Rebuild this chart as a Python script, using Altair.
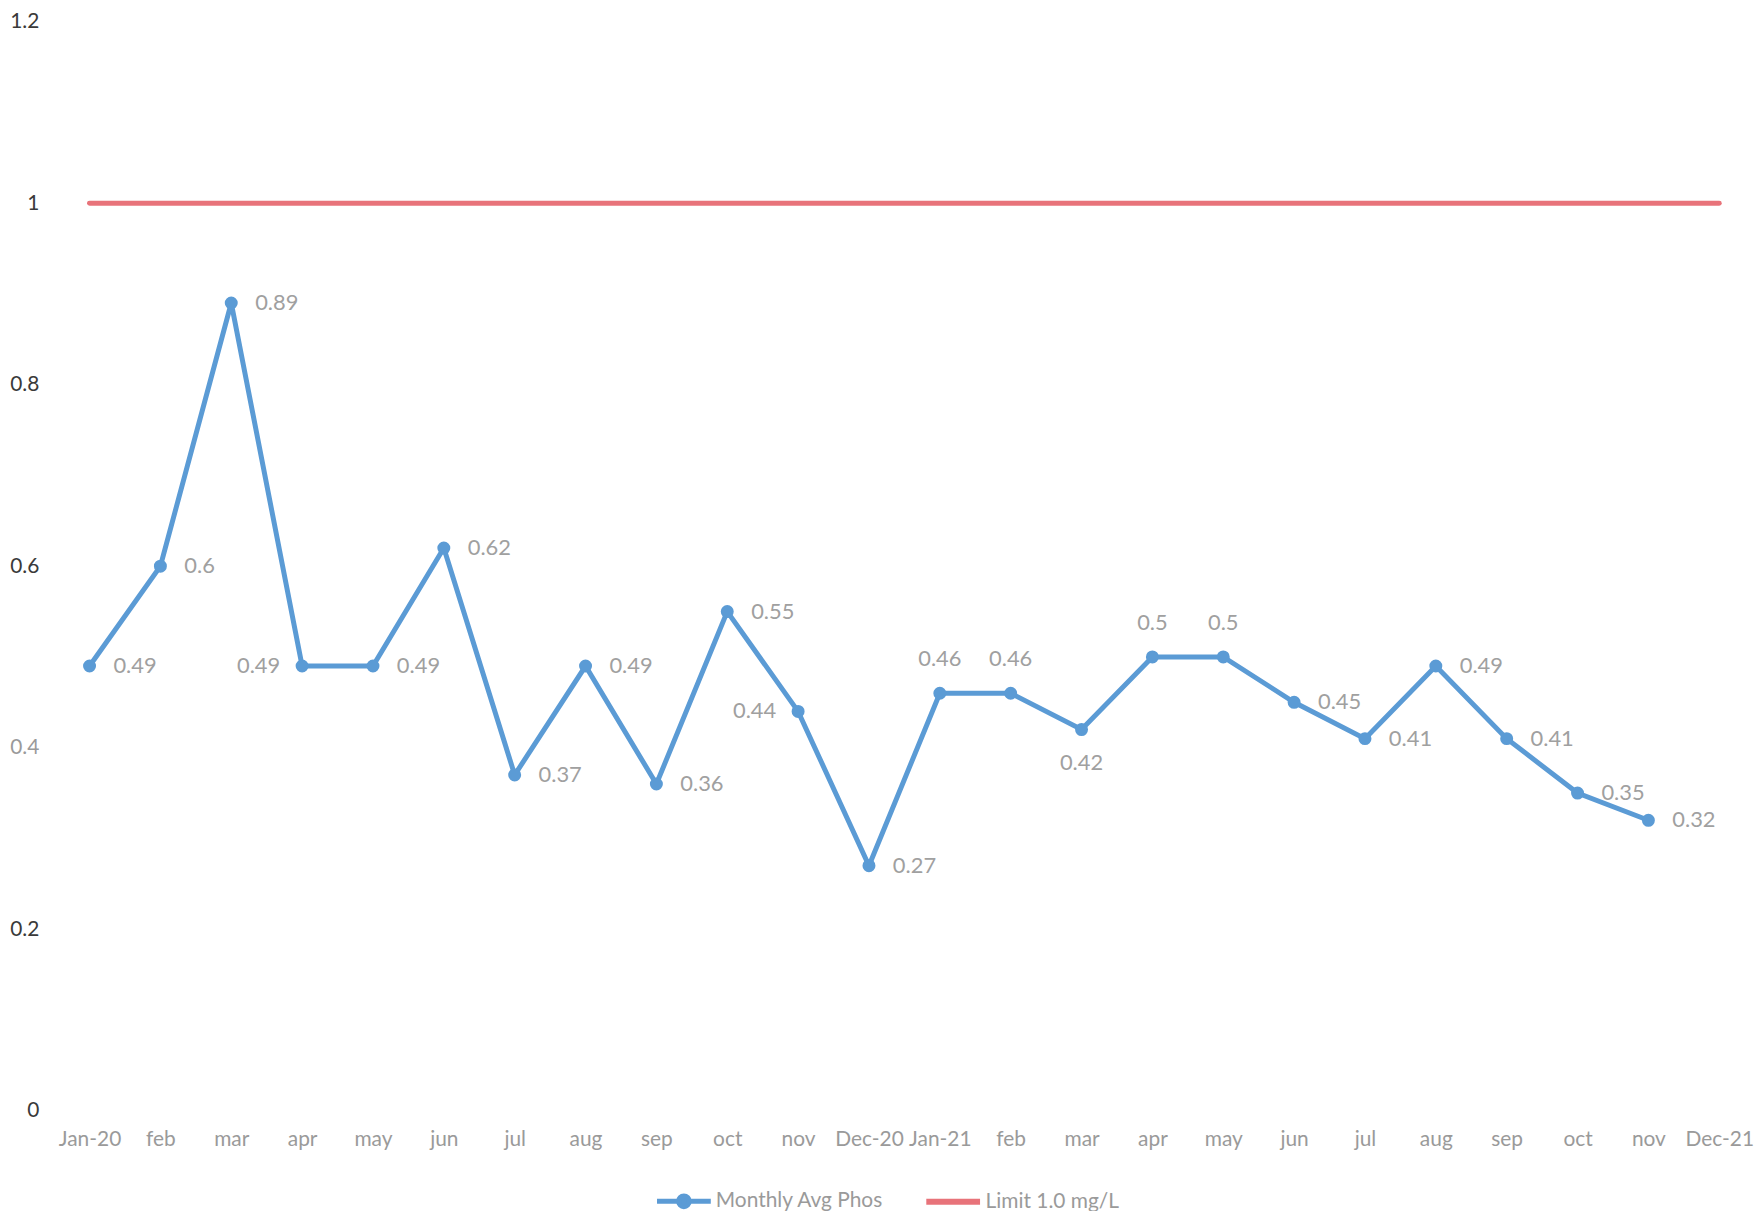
import altair as alt
import pandas as pd

# ---- data ----
month_labels = ["Jan-20", "feb", "mar", "apr", "may", "jun", "jul", "aug", "sep", "oct", "nov", "Dec-20",
                "Jan-21", "feb", "mar", "apr", "may", "jun", "jul", "aug", "sep", "oct", "nov", "Dec-21"]
phos_values = [0.49, 0.60, 0.89, 0.49, 0.49, 0.62, 0.37, 0.49, 0.36, 0.55, 0.44, 0.27,
               0.46, 0.46, 0.42, 0.50, 0.50, 0.45, 0.41, 0.49, 0.41, 0.35, 0.32, None]
limit_values = [1.0] * 24
phos_name = "Monthly Avg Phos"
limit_name = "Limit 1.0 mg/L"

# label placement (style)
label_side = ["right", "right", "right", "left", "right", "right", "right", "right", "right", "right", "left", "right",
              "above", "above", "below", "above", "above", "right", "right", "right", "right", "right", "right", "none"]

keys = [f"{i:02d}" for i in range(len(month_labels))]
phos_df = pd.DataFrame({"key": keys, "value": phos_values, "series": phos_name,
                        "side": label_side}).dropna(subset=["value"])
limit_df = pd.DataFrame({"key": keys, "value": limit_values, "series": limit_name})

label_expr = "[" + ",".join(f"'{m}'" for m in month_labels) + "][toNumber(datum.value)]"

FONT = "Lato"
BLUE = "#5b9bd5"
RED = "#e8737a"

x_enc = alt.X("key:O", sort=keys, scale=alt.Scale(type="point", padding=0.35),
              axis=alt.Axis(title=None, labelExpr=label_expr, labelAngle=0, labelFontSize=21,
                            labelColor="#9a9a9a", labelPadding=18, domain=False, ticks=False,
                            labelFont=FONT))
y_enc = alt.Y("value:Q", scale=alt.Scale(domain=[0, 1.2]),
              axis=alt.Axis(title=None, values=[0, 0.2, 0.4, 0.6, 0.8, 1.0, 1.2], format="~g",
                            grid=False, domain=False, ticks=False, labelFontSize=21,
                            labelColor={"expr": "datum.value == 0.4 ? '#9a9a9a' : '#3a3a3a'"},
                            labelPadding=26, labelFont=FONT))

phos_color = alt.Color("series:N", scale=alt.Scale(domain=[phos_name], range=[BLUE]),
                       legend=alt.Legend(title=None, orient="none", legendX=606, legendY=1169,
                                         labelFontSize=21, labelColor="#9a9a9a", labelFont=FONT,
                                         labelLimit=0, labelOffset=16,
                                         symbolType="M-2,0L-0.4,0M2,0L0.4,0M0.4,0A0.4,0.4,0,1,1,-0.4,0A0.4,0.4,0,1,1,0.4,0Z",
                                         symbolSize=729, symbolStrokeWidth=5, symbolFillColor=BLUE))
limit_stroke = alt.Stroke("series:N", scale=alt.Scale(domain=[limit_name], range=[RED]),
                          legend=alt.Legend(title=None, orient="none", legendX=876, legendY=1169,
                                            labelFontSize=21, labelColor="#9a9a9a", labelFont=FONT,
                                            labelLimit=0, labelOffset=16, symbolType="M-2,0L2,0",
                                            symbolSize=729, symbolStrokeWidth=6))

limit_line = alt.Chart(limit_df).mark_line(strokeWidth=5, strokeCap="round").encode(
    x=x_enc, y=y_enc, stroke=limit_stroke)

phos_line = alt.Chart(phos_df).mark_line(strokeWidth=5).encode(x=x_enc, y=y_enc, color=phos_color)
phos_pts = alt.Chart(phos_df).mark_circle(size=170, opacity=1).encode(x=x_enc, y=y_enc, color=phos_color)

def labels(side, **kw):
    return alt.Chart(phos_df).transform_filter(alt.datum.side == side).mark_text(
        fontSize=22, color="#a0a0a0", font=FONT, **kw).encode(
        x=x_enc, y=y_enc, text=alt.Text("value:Q", format="~g"))

lab_right = labels("right", align="left", baseline="middle", dx=24)
lab_left = labels("left", align="right", baseline="middle", dx=-22)
lab_above = labels("above", align="center", baseline="bottom", dy=-22)
lab_below = labels("below", align="center", baseline="top", dy=24)

chart = alt.layer(limit_line, phos_line, phos_pts, lab_right, lab_left, lab_above, lab_below).properties(
    width=1687, height=1094,
    autosize=alt.AutoSizeParams(type="none"),
    padding={"left": 57, "top": 11, "right": 11, "bottom": 98}
).configure_view(stroke=None)

chart.save("out.html", embed_options={"renderer": "svg", "actions": False})
